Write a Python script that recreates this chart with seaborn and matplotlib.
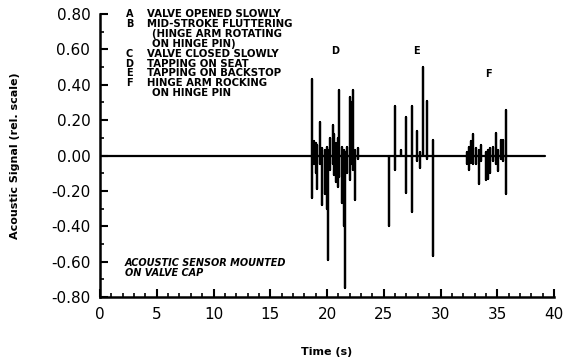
import pandas as pd
import matplotlib
matplotlib.use("Agg")
import matplotlib.pyplot as plt
from matplotlib.ticker import MultipleLocator, FormatStrFormatter
import seaborn as sns

# spike times (s), positive peak and negative peak (rel. scale)
spike_t = [18.7, 18.85, 19.0, 19.1, 19.4, 19.6, 19.8, 20.0, 20.1, 20.3, 20.5, 20.6,
           20.8, 21.0, 21.1, 21.3, 21.5, 21.6, 21.8, 22.0, 22.2, 22.3, 22.5, 22.7,
           25.5, 26.0, 26.5, 27.0, 27.5, 27.9, 28.2, 28.5, 28.8, 29.3,
           32.3, 32.5, 32.7, 32.9, 33.1, 33.4, 33.6, 34.0, 34.2, 34.4, 34.6, 34.9,
           35.1, 35.3, 35.5, 35.8]
spike_hi = [0.43, 0.08, 0.07, 0.06, 0.19, 0.04, 0.03, 0.05, 0.03, 0.10, 0.17, 0.12,
            0.07, 0.10, 0.37, 0.05, 0.03, 0.02, 0.05, 0.33, 0.30, 0.37, 0.03, 0.04,
            0.00, 0.28, 0.03, 0.22, 0.28, 0.14, 0.02, 0.50, 0.31, 0.09,
            0.02, 0.05, 0.08, 0.12, 0.04, 0.03, 0.06, 0.02, 0.03, 0.04, 0.05, 0.13,
            0.03, 0.09, 0.09, 0.26]
spike_lo = [-0.24, -0.05, -0.10, -0.19, -0.05, -0.28, -0.22, -0.30, -0.59, -0.08, -0.05, -0.11,
            -0.15, -0.18, -0.12, -0.27, -0.40, -0.75, -0.10, -0.14, -0.05, -0.08, -0.25, -0.02,
            -0.40, -0.08, 0.00, -0.21, -0.32, -0.03, -0.07, 0.00, -0.02, -0.57,
            -0.05, -0.08, -0.04, -0.05, -0.05, -0.16, -0.03, -0.14, -0.13, -0.10, -0.03, -0.05,
            -0.09, -0.02, -0.03, -0.22]
t_end = 39.2

legend_keys = ["A", "B", "", "", "C", "D", "E", "F", ""]
legend_lines = ["VALVE OPENED SLOWLY", "MID-STROKE FLUTTERING", "(HINGE ARM ROTATING",
                "ON HINGE PIN)", "VALVE CLOSED SLOWLY", "TAPPING ON SEAT",
                "TAPPING ON BACKSTOP", "HINGE ARM ROCKING", "ON HINGE PIN"]
event_labels = {"D": (20.7, 0.59), "E": (27.9, 0.59), "F": (34.2, 0.46)}

# build the trace: baseline with vertical excursions
tt, yy = [0.0], [0.0]
for t, hi, lo in zip(spike_t, spike_hi, spike_lo):
    tt += [t, t, t, t]
    yy += [0.0, hi, lo, 0.0]
tt.append(t_end)
yy.append(0.0)
trace = pd.DataFrame({"time": tt, "signal": yy})

sns.set_style("ticks")
plt.rcParams['font.family'] = ['DejaVu Sans']
plt.rcParams['text.color'] = 'black'
plt.rcParams['axes.labelcolor'] = 'black'

fig = plt.figure(figsize=(5.66, 3.63), dpi=100)
ax = fig.add_axes([0.1767, 0.1818, 0.8021, 0.7796])

sns.lineplot(data=trace, x="time", y="signal", sort=False, estimator=None,
             color="black", linewidth=1.6, ax=ax)

ax.set_xlim(0, 40)
ax.set_ylim(-0.8, 0.8)
ax.xaxis.set_major_locator(MultipleLocator(5))
ax.xaxis.set_minor_locator(MultipleLocator(1))
ax.yaxis.set_major_locator(MultipleLocator(0.2))
ax.yaxis.set_minor_locator(MultipleLocator(0.1))
ax.yaxis.set_major_formatter(FormatStrFormatter("%.2f"))
ax.tick_params(which="major", direction="in", length=6, width=1.5, labelsize=11, pad=7, colors="black")
ax.tick_params(which="minor", direction="in", length=3, width=1.2, colors="black")
sns.despine(ax=ax)
for s in ["left", "bottom"]:
    ax.spines[s].set_linewidth(1.8)
    ax.spines[s].set_color("black")

ax.set_xlabel("Time (s)", fontsize=8, fontweight="bold", labelpad=18)
ax.set_ylabel("Acoustic Signal (rel. scale)", fontsize=8, fontweight="bold", labelpad=22)

for i, (k, line) in enumerate(zip(legend_keys, legend_lines)):
    y = 0.80 - i * 0.056
    ax.text(2.6, y, k, fontsize=7, fontweight="bold", ha="center", va="center")
    ax.text(4.1 if i not in (2, 3, 8) else 4.6, y, line, fontsize=7.3, fontweight="bold", va="center")

for k, (x, y) in event_labels.items():
    ax.text(x, y, k, fontsize=7, fontweight="bold", ha="center", va="center")

ax.text(2.2, -0.635, "ACOUSTIC SENSOR MOUNTED\nON VALVE CAP", fontsize=7,
        fontweight="bold", style="italic", va="center", linespacing=1.0)

fig.savefig("out.png", dpi=100)
